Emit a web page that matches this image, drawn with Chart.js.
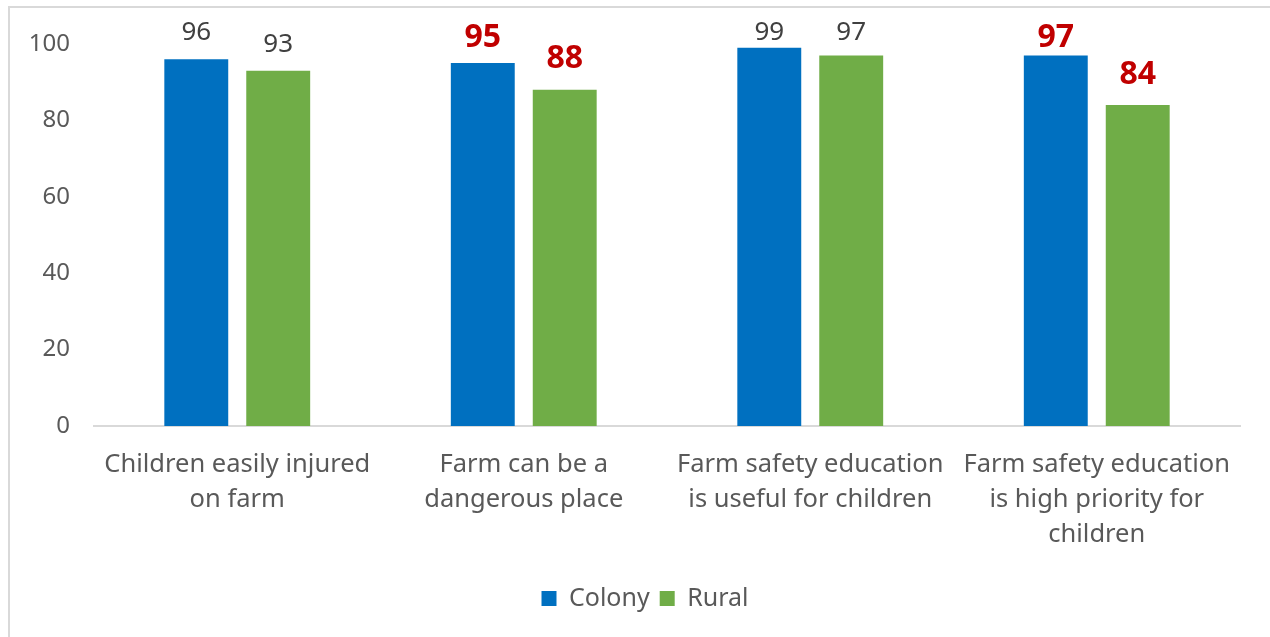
<!DOCTYPE html>
<html>
<head>
<meta charset="utf-8">
<script src="https://cdn.jsdelivr.net/npm/chart.js@4.4.1/dist/chart.umd.min.js"></script>
<style>
  html, body { margin: 0; padding: 0; background: #ffffff; overflow: hidden; }
  #wrap { position: relative; width: 1270px; height: 637px; }
  #frame { position: absolute; left: 8px; top: 6px; width: 1300px; height: 700px; border: 2px solid #d9d9d9; box-sizing: border-box; }
  canvas { position: absolute; left: 0; top: 0; }
</style>
</head>
<body>
<div id="wrap">
  <div id="frame"></div>
  <canvas id="c" width="1270" height="637"></canvas>
</div>
<script>
const categories = [
  ["Children easily injured", "on farm"],
  ["Farm can be a", "dangerous place"],
  ["Farm safety education", "is useful for children"],
  ["Farm safety education", "is high priority for", "children"]
];
const colonyValues = [96, 95, 99, 97];
const ruralValues = [93, 88, 97, 84];
const yTicks = [0, 20, 40, 60, 80, 100];

const FONT = "'Noto Sans', 'Open Sans', sans-serif";
const emphasized = [1, 3];

const valueLabels = {
  id: 'valueLabels',
  afterDatasetsDraw(chart) {
    const ctx = chart.ctx;
    ctx.save();
    ctx.textAlign = 'center';
    ctx.textBaseline = 'alphabetic';
    chart.data.datasets.forEach((ds, di) => {
      const meta = chart.getDatasetMeta(di);
      meta.data.forEach((bar, i) => {
        const strong = emphasized.includes(i);
        ctx.font = (strong ? 'bold 32px ' : '26px ') + FONT;
        ctx.fillStyle = strong ? '#C00000' : '#404040';
        const y = strong ? Math.max(bar.y - 21.5, 46.5) : Math.max(bar.y - 19, 39.5);
        ctx.fillText(String(ds.data[i]), bar.x, y);
      });
    });
    ctx.restore();
  }
};

const legendShift = {
  id: 'legendShift',
  afterLayout(chart) {
    if (chart.legend) { chart.legend.left += 25; chart.legend.right += 25; }
  }
};

new Chart(document.getElementById('c'), {
  type: 'bar',
  data: {
    labels: categories,
    datasets: [
      { label: 'Colony', data: colonyValues, backgroundColor: '#0070C0' },
      { label: 'Rural', data: ruralValues, backgroundColor: '#70AD47' }
    ]
  },
  options: {
    responsive: false,
    animation: false,
    devicePixelRatio: 1,
    layout: { padding: { left: 0, right: 30, top: 44, bottom: 16 } },
    datasets: { bar: { categoryPercentage: 0.572, barPercentage: 0.78 } },
    scales: {
      x: {
        grid: { display: false, drawTicks: false },
        border: { display: true, color: '#d9d9d9', width: 2 },
        ticks: {
          color: '#595959',
          font: { family: FONT, size: 25.5, lineHeight: 1.37 },
          padding: 21,
          maxRotation: 0,
          autoSkip: false
        },
        afterFit(scale) { scale.height = 150; }
      },
      y: {
        min: 0, max: 100,
        afterBuildTicks(scale) { scale.ticks = yTicks.map(v => ({ value: v })); },
        grid: { display: false, drawTicks: false },
        border: { display: false },
        ticks: {
          color: '#595959',
          font: { family: FONT, size: 24 },
          padding: 24
        },
        afterFit(scale) { scale.width = 94; }
      }
    },
    plugins: {
      legend: {
        position: 'bottom',
        labels: {
          color: '#595959',
          font: { family: FONT, size: 25 },
          boxWidth: 15,
          boxHeight: 15,
          padding: 10
        }
      },
      tooltip: { enabled: false }
    }
  },
  plugins: [valueLabels, legendShift]
});
</script>
</body>
</html>
